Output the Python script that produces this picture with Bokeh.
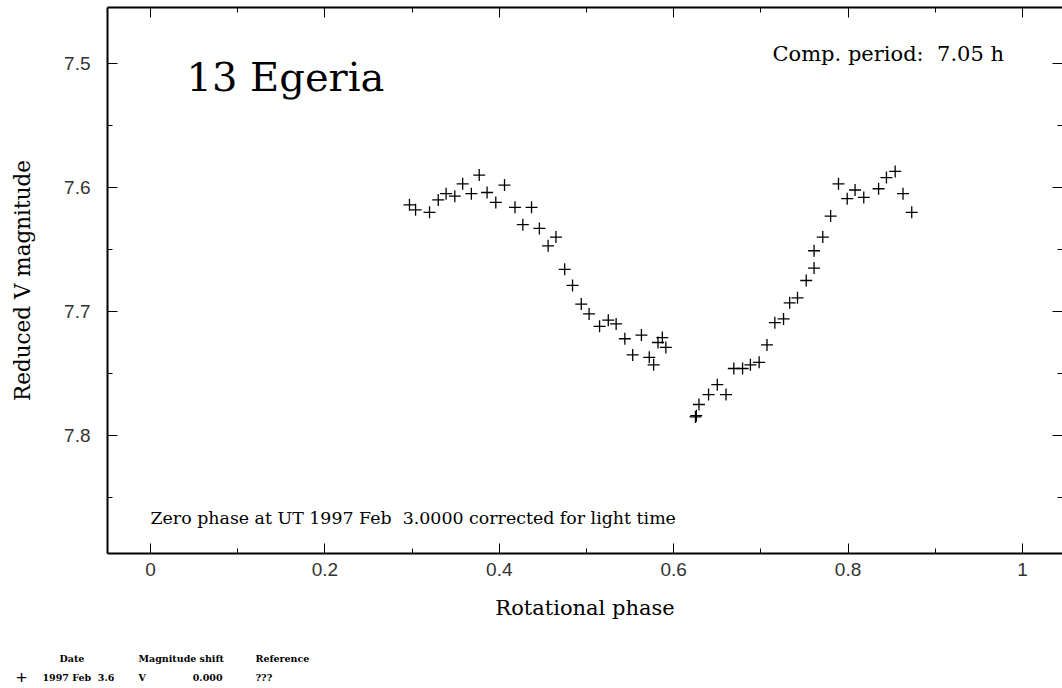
import numpy as np
from bokeh.plotting import figure
from bokeh.layouts import column
from bokeh.models import Range1d, LinearAxis, FixedTicker, Label
from bokeh.embed import file_html
from bokeh.resources import INLINE

# ---------------- data ----------------
phase = [0.297, 0.304, 0.320, 0.330, 0.339, 0.349, 0.358, 0.368, 0.377, 0.386,
         0.396, 0.406, 0.418, 0.437, 0.427, 0.446, 0.465, 0.456, 0.475, 0.484,
         0.494, 0.503, 0.515, 0.525, 0.534, 0.544, 0.553, 0.563, 0.572, 0.577,
         0.582, 0.587, 0.591, 0.625, 0.626, 0.629, 0.640, 0.650, 0.660, 0.669,
         0.679, 0.688, 0.698, 0.707, 0.716, 0.726, 0.733, 0.742, 0.752, 0.761,
         0.761, 0.771, 0.780, 0.789, 0.799, 0.808, 0.818, 0.835, 0.844, 0.854,
         0.863, 0.873]
magnitude = [7.614, 7.618, 7.620, 7.610, 7.605, 7.607, 7.597, 7.605, 7.590, 7.604,
             7.612, 7.598, 7.616, 7.616, 7.630, 7.633, 7.640, 7.647, 7.666, 7.679,
             7.694, 7.702, 7.712, 7.707, 7.710, 7.722, 7.735, 7.719, 7.737, 7.743,
             7.725, 7.721, 7.729, 7.785, 7.784, 7.775, 7.767, 7.759, 7.767, 7.746,
             7.746, 7.743, 7.741, 7.727, 7.709, 7.706, 7.693, 7.689, 7.675, 7.665,
             7.651, 7.640, 7.623, 7.597, 7.609, 7.602, 7.608, 7.601, 7.592, 7.587,
             7.605, 7.620]

x_ticks = [0.0, 0.2, 0.4, 0.6, 0.8, 1.0]
x_tick_labels = ["0", "0.2", "0.4", "0.6", "0.8", "1"]
y_ticks = [7.5, 7.6, 7.7, 7.8]
y_tick_labels = ["7.5", "7.6", "7.7", "7.8"]

object_name = "13 Egeria"
period_text = "Comp. period:\u00a0 7.05 h"
zero_phase_text = "Zero phase at UT 1997 Feb\u00a0 3.0000 corrected for light time"
x_label = "Rotational phase"
y_label = "Reduced V magnitude"

legend_headers = ["Date", "Magnitude shift", "Reference"]
legend_row = ["1997 Feb\u00a0 3.6", "V", "0.000", "???"]

# ---------------- geometry helpers ----------------
X0, X1 = -0.0493, 1.0459
Y_TOP, Y_BOT = 7.4548, 7.8952

def px_x(px):
    return (px - 150) / 872.0

def px_y(py):
    return 7.5 + (py - 63) / 1240.0

H1 = 630
p = figure(width=1062, height=H1, output_backend="svg", toolbar_location=None,
           x_range=Range1d(X0, X1), y_range=Range1d(Y_BOT, Y_TOP),
           x_axis_location=None, y_axis_location=None,
           min_border_left=107, min_border_right=0, min_border_top=7,
           min_border_bottom=H1 - 553)
p.frame_align = False
p.outline_line_color = None
p.xgrid.visible = False
p.ygrid.visible = False
p.background_fill_color = "white"
p.border_fill_color = "white"

serif = "DejaVu Serif"
sans = "Liberation Sans"

x_minor = list(np.round(np.arange(0.0, 1.05, 0.1), 3))
y_minor = list(np.round(np.arange(7.45, 7.9, 0.05), 3))

def style_axis(ax, line=True):
    ax.axis_line_width = 2
    ax.axis_line_color = "black" if line else None
    ax.major_tick_in = 10
    ax.major_tick_out = 0
    ax.minor_tick_in = 5
    ax.minor_tick_out = 0
    ax.major_tick_line_width = 1
    ax.minor_tick_line_width = 1

xt = FixedTicker(ticks=x_ticks, minor_ticks=x_minor)
yt = FixedTicker(ticks=y_ticks, minor_ticks=y_minor)

bottom = LinearAxis(ticker=xt, axis_label=x_label)
style_axis(bottom)
bottom.major_label_overrides = {t: l for t, l in zip(x_ticks, x_tick_labels)}
bottom.major_label_text_font = sans
bottom.major_label_text_font_size = "19px"
bottom.major_label_text_color = "#333333"
bottom.major_label_standoff = 9
bottom.axis_label_text_font = serif
bottom.axis_label_text_font_style = "normal"
bottom.axis_label_text_font_size = "21px"
bottom.axis_label_text_color = "black"
bottom.axis_label_standoff = 17
p.add_layout(bottom, "below")

left = LinearAxis(ticker=yt, axis_label=y_label)
style_axis(left)
left.major_label_overrides = {t: l for t, l in zip(y_ticks, y_tick_labels)}
left.major_label_text_font = sans
left.major_label_text_font_size = "19px"
left.major_label_text_color = "#333333"
left.major_label_standoff = 17
left.axis_label_text_font = serif
left.axis_label_text_font_style = "normal"
left.axis_label_text_font_size = "21.5px"
left.axis_label_text_color = "black"
left.axis_label_standoff = 26
p.add_layout(left, "left")

top = LinearAxis(ticker=xt)
style_axis(top)
top.major_label_overrides = {t: "" for t in x_ticks}
top.major_label_text_font_size = "0px"
top.major_label_standoff = 0
p.add_layout(top, "above")

right = LinearAxis(ticker=yt)
style_axis(right, line=False)
right.major_label_overrides = {t: "" for t in y_ticks}
right.major_label_text_font_size = "0px"
right.major_label_standoff = 0
p.add_layout(right, "right")

p.scatter(phase, magnitude, marker="cross", size=12, line_width=1.3, line_color="black")

p.add_layout(Label(x=px_x(186), y=px_y(76), text=object_name, text_font=serif,
                   text_font_size="40px", text_color="black",
                   text_baseline="middle", text_align="left"))
p.add_layout(Label(x=px_x(772), y=px_y(53), text=period_text, text_font=serif,
                   text_font_size="21px", text_color="black",
                   text_baseline="middle", text_align="left"))
p.add_layout(Label(x=px_x(150), y=px_y(518), text=zero_phase_text, text_font=serif,
                   text_font_size="17.4px", text_color="black",
                   text_baseline="middle", text_align="left"))

# ---------------- legend table below the plot ----------------
H2 = 688 - H1
p2 = figure(width=1062, height=H2, output_backend="svg", toolbar_location=None,
            x_range=Range1d(0, 1062), y_range=Range1d(H2, 0),
            x_axis_location=None, y_axis_location=None,
            min_border_left=0, min_border_right=0, min_border_top=0, min_border_bottom=0)
p2.frame_align = False
p2.outline_line_color = None
p2.xgrid.visible = False
p2.ygrid.visible = False

row1_y = 658 - H1
row2_y = 677 - H1
hdr_x = [59, 138, 255]
for txt, xx in zip(legend_headers, hdr_x):
    p2.add_layout(Label(x=xx, y=row1_y, text=txt, text_font=serif,
                        text_font_size="9.5px", text_font_style="bold", text_color="black",
                        text_baseline="middle", text_align="left"))
p2.add_layout(Label(x=21, y=row2_y, text="+", text_font=sans,
                    text_font_size="19px", text_color="black",
                    text_baseline="middle", text_align="center"))
row_x = [42, 138, 222, 255]
row_align = ["left", "left", "right", "left"]
for txt, xx, al in zip(legend_row, row_x, row_align):
    p2.add_layout(Label(x=xx, y=row2_y, text=txt, text_font=serif,
                        text_font_size="9.5px", text_font_style="bold", text_color="black",
                        text_baseline="middle", text_align=al))

open("out.html", "w").write(file_html(column(p, p2, spacing=0), INLINE))
